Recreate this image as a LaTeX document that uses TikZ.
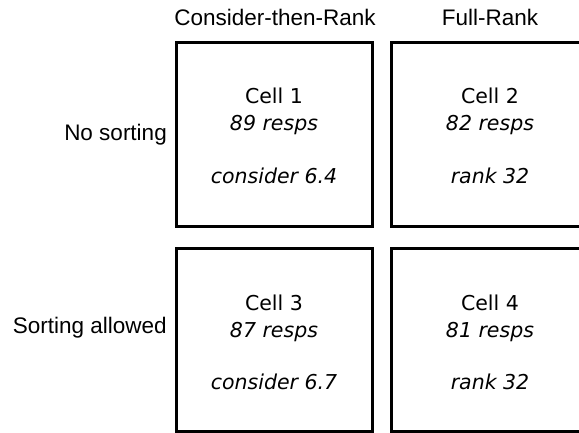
\documentclass[tikz,border=0pt]{standalone}
\usepackage{fontspec}
\setmainfont{DejaVu Sans}
\newfontfamily\labfont{Liberation Sans}
\begin{document}
\begin{tikzpicture}[x=1pt,y=-1pt,
  cellbox/.style={draw, line width=3pt, inner sep=0pt, minimum height=184pt},
  lab/.style={font=\labfont\fontsize{22.5}{27}\selectfont, inner sep=0pt},
  celltxt/.style={font=\fontsize{20.5}{26.5}\selectfont, anchor=base, inner sep=0pt}]
\useasboundingbox (0,0) rectangle (579,432);
% boxes
\node[cellbox, minimum width=196pt] (b1) at (274,134) {};
\node[cellbox, minimum width=200pt] (b2) at (491,134) {};
\node[cellbox, minimum width=196pt, minimum height=183pt] (b3) at (274,339.5) {};
\node[cellbox, minimum width=200pt, minimum height=183pt] (b4) at (491,339.5) {};
% column titles
\node[lab, anchor=base] (t1) at (275,25) {Consider-then-Rank};
\node[lab, anchor=base] (t2) at (490,25) {Full-Rank};
% row labels
\node[lab, anchor=base east] (l1) at (167,140) {No sorting};
\node[lab, anchor=base east] (l2) at (167,333) {Sorting allowed};
% cell 1
\node[celltxt] (c1) at (274,103) {Cell 1};
\node[celltxt] (r1) at (274,130) {\itshape 89 resps};
\node[celltxt] (k1) at (274,183) {\itshape consider 6.4};
% cell 2
\node[celltxt] (c2) at (490,103) {Cell 2};
\node[celltxt] (r2) at (490,130) {\itshape 82 resps};
\node[celltxt] (k2) at (490,183) {\itshape rank 32};
% cell 3
\node[celltxt] (c3) at (274,310) {Cell 3};
\node[celltxt] (r3) at (274,337) {\itshape 87 resps};
\node[celltxt] (k3) at (274,389) {\itshape consider 6.7};
% cell 4
\node[celltxt] (c4) at (490,310) {Cell 4};
\node[celltxt] (r4) at (490,337) {\itshape 81 resps};
\node[celltxt] (k4) at (490,389) {\itshape rank 32};
\end{tikzpicture}
\end{document}
